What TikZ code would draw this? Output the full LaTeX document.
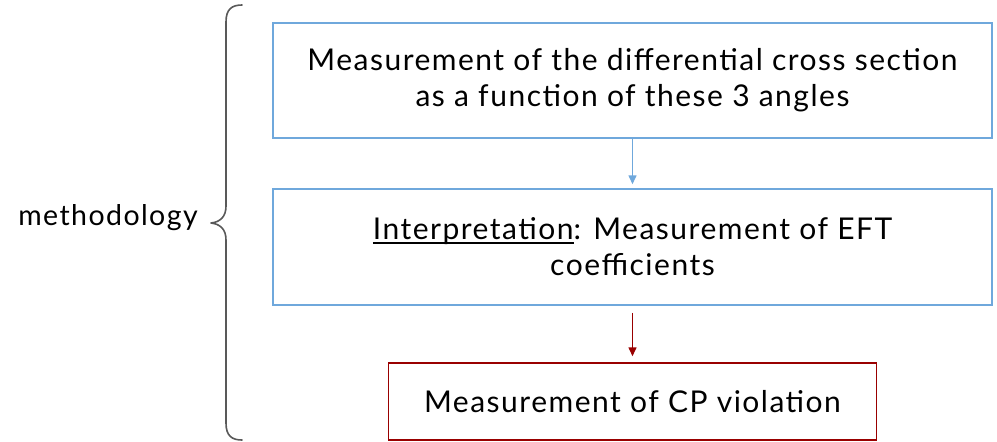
\documentclass[tikz,border=0pt]{standalone}
\usepackage{fontspec}
\setmainfont{Lato}[LetterSpace=5]
\usetikzlibrary{arrows.meta}
\definecolor{boxblue}{HTML}{6FA8DC}
\definecolor{boxred}{HTML}{990000}
\definecolor{bracegray}{HTML}{595959}
\tikzset{
  bluebox/.style={draw=boxblue, line width=1.5pt, rectangle, align=center, inner sep=0pt, font=\fontsize{30}{36}\selectfont},
  redbox/.style={draw=boxred, line width=1.5pt, rectangle, align=center, inner sep=0pt, font=\fontsize{30}{36}\selectfont},
  bluearrow/.style={draw=boxblue, line width=1.5pt, -{Triangle[length=9pt,width=8pt]}},
  redarrow/.style={draw=boxred, line width=1.5pt, -{Triangle[length=9pt,width=8pt]}},
  bracestyle/.style={draw=bracegray, line width=1.6pt, line cap=round, line join=round},
}
\newcommand{\ulthick}[1]{\setbox0=\hbox{#1}\leavevmode\rlap{\rule[-4pt]{\wd0}{2pt}}\box0}
\begin{document}
\begin{tikzpicture}[x=1pt,y=-1pt]
\useasboundingbox (0,0) rectangle (997,442);
\node[bluebox, minimum width=719pt, minimum height=115pt] (b1) at (632.5,80.5)
  {Measurement of the differential cross section\\as a function of these 3 angles};
\node[bluebox, minimum width=719pt, minimum height=116pt] (b2) at (632.5,247)
  {\ulthick{Interpretation}: Measurement of EFT\\coefficients};
\node[redbox, minimum width=488pt, minimum height=77pt] (b3) at (632.5,401.5)
  {Measurement of CP violation};
\draw[bluearrow, shorten >=4pt] (b1.south) -- (b2.north);
\draw[redarrow, shorten <=7pt, shorten >=6pt] (b2.south) -- (b3.north);
\node[font=\fontsize{28.5}{36}\selectfont, anchor=center] (meth) at (108,218) {methodology};
\draw[bracestyle] (242,5) .. controls (232,5) and (226,9) .. (226,22)
  -- (226,206) .. controls (226,217) and (220,222) .. (211,223)
  .. controls (220,224) and (226,229) .. (226,240)
  -- (226,423) .. controls (226,436) and (232,440) .. (242,440);
\end{tikzpicture}
\end{document}
